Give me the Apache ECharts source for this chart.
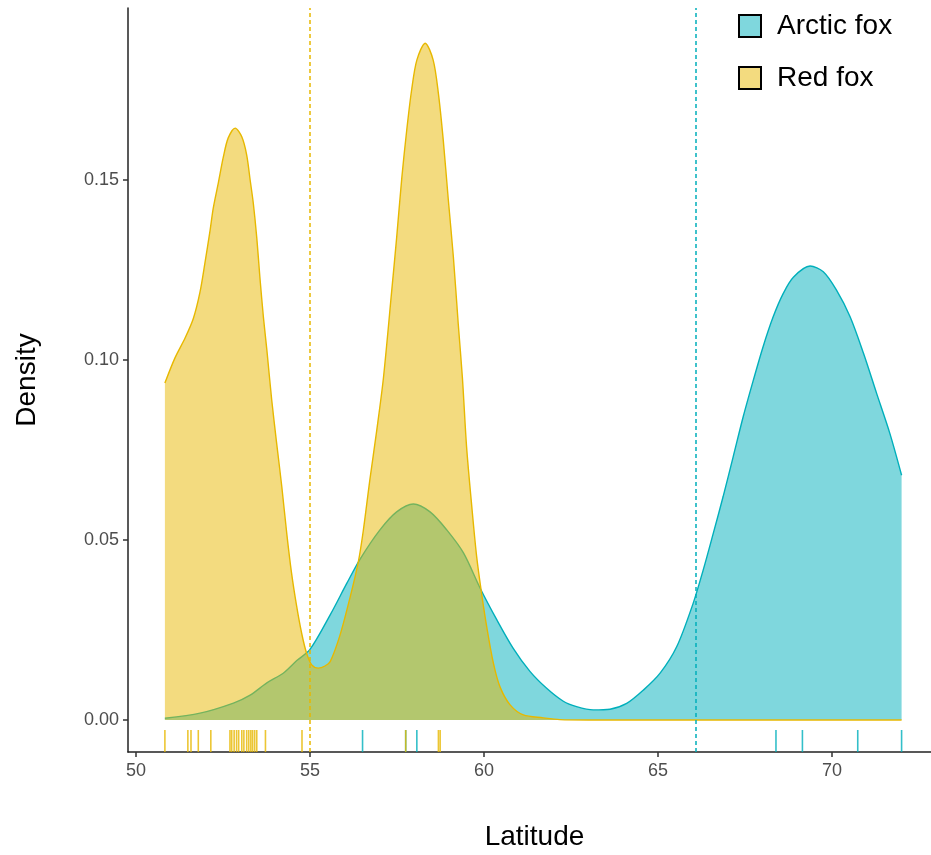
<!DOCTYPE html>
<html>
<head>
<meta charset="utf-8">
<script src="https://cdn.jsdelivr.net/npm/echarts@6/dist/echarts.min.js"></script>
<style>html,body{margin:0;padding:0;background:#fff;}#c{width:931px;height:855px;}</style>
</head>
<body>
<div id="c"></div>
<script>
// ---- data ----
const seriesNames = ['Arctic fox', 'Red fox'];
const xTicks = [50, 55, 60, 65, 70];
const yTicks = [0, 0.05, 0.10, 0.15];

const arcticX = [50.83, 51.84, 52.80, 53.28, 53.76, 54.23, 54.62, 55.00, 55.58, 56.06, 56.44, 57.01, 57.49, 57.97, 58.45, 58.93, 59.41, 59.89, 60.37, 60.84, 61.32, 61.80, 62.28, 62.66, 63.14, 63.62, 64.10, 64.58, 65.06, 65.54, 66.01, 66.30, 66.59, 66.87, 67.16, 67.45, 67.74, 68.02, 68.31, 68.60, 68.89, 69.37, 69.75, 70.13, 70.52, 70.90, 71.28, 71.66, 72.00];
const arcticY = [0.0005, 0.0019, 0.0047, 0.0069, 0.0103, 0.0130, 0.0165, 0.0196, 0.0292, 0.0380, 0.0447, 0.0528, 0.0578, 0.0600, 0.0578, 0.0528, 0.0464, 0.0366, 0.0278, 0.0199, 0.0135, 0.0088, 0.0052, 0.0037, 0.0028, 0.0030, 0.0046, 0.0083, 0.0130, 0.0204, 0.0324, 0.0417, 0.0519, 0.0620, 0.0731, 0.0843, 0.0944, 0.1037, 0.1120, 0.1185, 0.1230, 0.1261, 0.1245, 0.1194, 0.1120, 0.1020, 0.0908, 0.0797, 0.0680];

const redX = [50.83, 51.12, 51.41, 51.65, 51.84, 51.98, 52.13, 52.22, 52.37, 52.51, 52.65, 52.85, 53.04, 53.18, 53.28, 53.37, 53.47, 53.56, 53.66, 53.76, 53.90, 54.04, 54.19, 54.33, 54.47, 54.62, 54.76, 54.90, 55.05, 55.24, 55.43, 55.58, 55.86, 56.15, 56.39, 56.53, 56.72, 56.92, 57.11, 57.35, 57.49, 57.64, 57.78, 57.92, 58.07, 58.31, 58.54, 58.69, 58.83, 58.97, 59.12, 59.26, 59.38, 59.50, 59.65, 59.79, 59.93, 60.08, 60.27, 60.46, 60.75, 61.13, 61.70, 62.18, 63.00, 65.00, 68.00, 72.00];
const redY = [0.0936, 0.1006, 0.1061, 0.1116, 0.1189, 0.1269, 0.1361, 0.1422, 0.1494, 0.1564, 0.1617, 0.1644, 0.1620, 0.1570, 0.1500, 0.1436, 0.1340, 0.1230, 0.1120, 0.1028, 0.0889, 0.0770, 0.0648, 0.0520, 0.0408, 0.0314, 0.0241, 0.0186, 0.0153, 0.0144, 0.0150, 0.0162, 0.0235, 0.0340, 0.0440, 0.0525, 0.0667, 0.0806, 0.0950, 0.1194, 0.1340, 0.1508, 0.1639, 0.1750, 0.1833, 0.1880, 0.1833, 0.1740, 0.1610, 0.1450, 0.1286, 0.1100, 0.0950, 0.0758, 0.0592, 0.0453, 0.0352, 0.0258, 0.0158, 0.0092, 0.0042, 0.0014, 0.0006, 0.0001, 0, 0, 0, 0];

const arcticRug = [56.51, 57.75, 58.07, 68.39, 69.15, 70.74, 72.00];
const redRug = [50.83, 51.49, 51.58, 51.79, 52.15, 52.70, 52.75, 52.82, 52.89, 52.95, 53.04, 53.10, 53.18, 53.24, 53.30, 53.35, 53.41, 53.47, 53.72, 54.77, 57.75, 58.69, 58.74];

const arcticMean = 66.08;
const redMean = 54.99;

// ---- styling ----
const C_ARC = '#00AFBB';
const C_RED = '#E7B800';
const FONT = '"Liberation Sans", Arial, sans-serif';

function zip(xs, ys) { return xs.map((x, i) => [x, ys[i]]); }

function rugSeries(name, vals, color) {
  return {
    type: 'custom',
    name: name,
    silent: true,
    z: 5,
    data: vals.map(v => [v, 0]),
    encode: { x: 0, y: 1 },
    renderItem: function (params, api) {
      const x = api.coord([api.value(0), 0])[0];
      const cs = params.coordSys;
      const yb = cs.y + cs.height;
      return {
        type: 'line',
        shape: { x1: x, y1: yb, x2: x, y2: yb - 22 },
        style: { stroke: color, lineWidth: 1.6, opacity: 0.8 }
      };
    }
  };
}

const chart = echarts.init(document.getElementById('c'), null, { renderer: 'canvas' });
chart.setOption({
  animation: false,
  backgroundColor: '#ffffff',
  textStyle: { fontFamily: FONT },
  grid: { left: 128, right: 0, top: 8, bottom: 103, containLabel: false, outerBoundsMode: 'none' },
  legend: {
    orient: 'vertical',
    left: 733,
    top: 7,
    itemWidth: 22,
    itemHeight: 22,
    itemGap: 24,
    selectedMode: false,
    textStyle: { fontSize: 28, color: '#000', fontFamily: FONT, padding: [0, 0, 0, 11] },
    data: [
      { name: seriesNames[0], icon: 'rect', itemStyle: { color: '#7FD7DD', borderColor: '#000', borderWidth: 2 } },
      { name: seriesNames[1], icon: 'rect', itemStyle: { color: '#F3DB7F', borderColor: '#000', borderWidth: 2 } }
    ]
  },
  xAxis: {
    type: 'value',
    min: 49.77,
    max: 72.845,
    name: 'Latitude',
    nameLocation: 'middle',
    nameGap: 71,
    nameTextStyle: { fontSize: 28, color: '#000', fontFamily: FONT, padding: [0, 0, 0, 10] },
    axisLine: { show: true, onZero: false, lineStyle: { color: '#222', width: 1.5 } },
    axisTick: { show: true, length: 5, lineStyle: { color: '#333', width: 1.5 }, customValues: xTicks },
    axisLabel: { show: true, fontSize: 18, color: '#4d4d4d', margin: 10, customValues: xTicks, fontFamily: FONT },
    splitLine: { show: false }
  },
  yAxis: {
    type: 'value',
    min: -0.00889,
    max: 0.19778,
    name: 'Density',
    nameLocation: 'middle',
    nameGap: 87,
    nameTextStyle: { fontSize: 28, color: '#000', fontFamily: FONT },
    axisLine: { show: true, onZero: false, lineStyle: { color: '#222', width: 1.5 } },
    axisTick: { show: true, length: 5, lineStyle: { color: '#333', width: 1.5 }, customValues: yTicks },
    axisLabel: { show: true, fontSize: 18, color: '#4d4d4d', margin: 9, customValues: yTicks, fontFamily: FONT,
      formatter: v => Number(v).toFixed(2) },
    splitLine: { show: false }
  },
  series: [
    {
      type: 'line',
      name: seriesNames[0],
      data: zip(arcticX, arcticY),
      symbol: 'none',
      smooth: 0.3,
      z: 2,
      lineStyle: { color: C_ARC, width: 1.4 },
      itemStyle: { color: C_ARC },
      areaStyle: { color: 'rgba(0,175,187,0.5)', opacity: 1, origin: 0 },
      markLine: {
        silent: true,
        symbol: ['none', 'none'],
        label: { show: false },
        lineStyle: { color: C_ARC, type: [4, 3], width: 1.5 },
        data: [{ xAxis: arcticMean }]
      }
    },
    {
      type: 'line',
      name: seriesNames[1],
      data: zip(redX, redY),
      symbol: 'none',
      smooth: 0.3,
      z: 3,
      lineStyle: { color: C_RED, width: 1.4 },
      itemStyle: { color: C_RED },
      areaStyle: { color: 'rgba(231,184,0,0.5)', opacity: 1, origin: 0 },
      markLine: {
        silent: true,
        symbol: ['none', 'none'],
        label: { show: false },
        lineStyle: { color: C_RED, type: [4, 3], width: 1.5 },
        data: [{ xAxis: redMean }]
      }
    },
    rugSeries('Arctic fox rug', arcticRug, C_ARC),
    rugSeries('Red fox rug', redRug, C_RED)
  ]
});
</script>
</body>
</html>
